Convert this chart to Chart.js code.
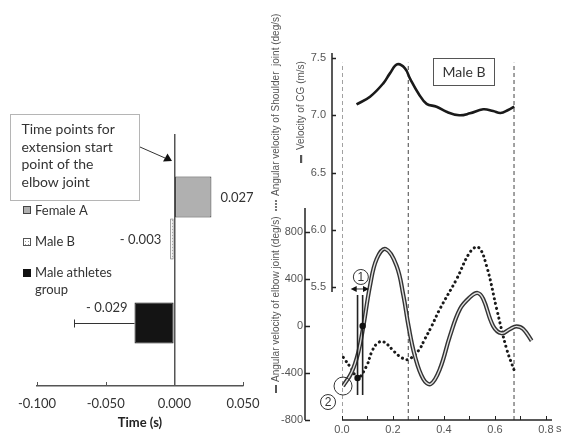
<!DOCTYPE html>
<html>
<head>
<meta charset="utf-8">
<script src="https://cdn.jsdelivr.net/npm/chart.js@4.4.0/dist/chart.umd.min.js"></script>
<style>
html, body { margin: 0; padding: 0; background: #fff; }
#wrap { position: relative; width: 564px; height: 434px; overflow: hidden; }
#izq { position: absolute; left: 0; top: 0; }
#der { position: absolute; left: 262px; top: 0; }
</style>
</head>
<body>
<div id="wrap">
  <canvas id="izq" width="262" height="434"></canvas>
  <canvas id="der" width="302" height="434"></canvas>
</div>
<script>
// ---- left panel: time of elbow extension start ----
var grupos = ['', 'Female A', 'Male B', '', 'Male athletes group', ''];
var tiempos = [null, 0.027, -0.003, null, -0.029, null];
var errores = [null, null, null, null, 0.044, null];
var ticksTiempo = [-0.1, -0.05, 0, 0.05];

// ---- right panel: Male B curves ----
var tiempoCodo = [0.004, 0.038, 0.064, 0.084, 0.110, 0.136, 0.171, 0.214, 0.241, 0.261, 0.286, 0.319, 0.348, 0.384, 0.424, 0.463, 0.502, 0.532, 0.554, 0.593, 0.626, 0.659, 0.685, 0.711, 0.744];
var velCodo = [-511, -394, -224, 0, 343, 570, 655, 513, 258, 0, -255, -451, -494, -366, -82, 145, 244, 281, 230, 0, -62, -26, -3, -26, -125];
var tiempoHombro = [0.005, 0.038, 0.062, 0.097, 0.116, 0.136, 0.162, 0.208, 0.234, 0.260, 0.300, 0.325, 0.352, 0.384, 0.450, 0.502, 0.535, 0.567, 0.607, 0.646, 0.676];
var velHombro = [-267, -366, -443, -338, -224, -153, -133, -224, -270, -285, -210, -111, 0, 145, 400, 627, 670, 513, 145, -196, -380];
var tiempoCG = [0.057, 0.110, 0.162, 0.188, 0.217, 0.247, 0.267, 0.300, 0.332, 0.371, 0.410, 0.460, 0.502, 0.554, 0.593, 0.622, 0.652, 0.676];
var velCG = [7.095, 7.162, 7.279, 7.366, 7.445, 7.41, 7.32, 7.19, 7.10, 7.075, 7.03, 7.0, 7.017, 7.052, 7.037, 7.02, 7.046, 7.075];
var lineasFase = [0, 0.26, 0.675];
var inicioExtension = [0.061, 0.081];
var marcaT = [0.061, 0.081];
var marcaV = [-443, 0];
var ticksCodo = [-800, -400, 0, 400, 800];
var ticksCG = [5.5, 6.0, 6.5, 7.0, 7.5];
var ticksT = [0, 0.1, 0.2, 0.3, 0.4, 0.5, 0.6, 0.7, 0.8];

var fuente = 'Lato, "Open Sans", sans-serif';
var fuenteEje = '"Liberation Sans", Arial, sans-serif';

function pares(xs, ys) {
    var r = [];
    for (let i = 0; i < xs.length; i++) r.push({ x: xs[i], y: ys[i] });
    return r;
}

// keep the layout from adding room for label overhang
function sinRelleno(s) {
    s.paddingLeft = 0; s.paddingRight = 0; s.paddingTop = 0; s.paddingBottom = 0;
}

function patronPuntos(ctx) {
    var c = document.createElement('canvas');
    c.width = 3; c.height = 3;
    var g = c.getContext('2d');
    g.fillStyle = '#fff'; g.fillRect(0, 0, 3, 3);
    g.fillStyle = '#9a9a9a'; g.fillRect(1, 1, 1, 1);
    return ctx.createPattern(c, 'repeat');
}

var ctxIzq = document.getElementById('izq').getContext('2d');
var puntos = patronPuntos(ctxIzq);

var extrasIzq = {
    id: 'extrasIzq',
    afterDraw: function (chart) {
        var ctx = chart.ctx;
        var xs = chart.scales.x;
        var meta = chart.getDatasetMeta(0);
        ctx.save();
        // ticks pointing up from the axis
        ctx.strokeStyle = '#555'; ctx.lineWidth = 1;
        ticksTiempo.forEach(function (v) {
            var px = Math.round(xs.getPixelForValue(v)) + 0.5;
            ctx.beginPath(); ctx.moveTo(px, xs.top); ctx.lineTo(px, xs.top - 4); ctx.stroke();
        });
        // error bar
        for (let i = 0; i < errores.length; i++) {
            if (errores[i] == null) continue;
            var bar = meta.data[i];
            var xe = xs.getPixelForValue(tiempos[i] - errores[i]);
            var yb = Math.round(bar.y) + 0.5;
            ctx.strokeStyle = '#333';
            ctx.beginPath(); ctx.moveTo(bar.x, yb); ctx.lineTo(xe, yb); ctx.stroke();
            ctx.beginPath(); ctx.moveTo(Math.round(xe) + 0.5, yb - 4); ctx.lineTo(Math.round(xe) + 0.5, yb + 4); ctx.stroke();
        }
        // value labels
        ctx.fillStyle = '#333';
        ctx.font = '13px ' + fuente;
        ctx.textBaseline = 'middle';
        var b1 = meta.data[1], b2 = meta.data[2], b4 = meta.data[4];
        ctx.textAlign = 'left';
        ctx.fillText('0.027', b1.x + 9, b1.y + 1);
        ctx.textAlign = 'right';
        ctx.fillText('- 0.003', b2.x - 9, b2.y + 1);
        ctx.fillText('- 0.029', b4.x - 7, b4.y - 15);

        // note box
        ctx.strokeStyle = '#b5b5b5';
        ctx.strokeRect(10.5, 114.5, 129, 86);
        ctx.fillStyle = '#333';
        ctx.font = '14px ' + fuente;
        ctx.textAlign = 'left';
        ['Time points for', 'extension start', 'point of the', 'elbow joint'].forEach(function (t, k) {
            ctx.fillText(t, 21.5, 129.5 + k * 17.7);
        });
        // arrow
        ctx.strokeStyle = '#333'; ctx.lineWidth = 1;
        ctx.beginPath(); ctx.moveTo(140, 147); ctx.lineTo(165, 158); ctx.stroke();
        ctx.fillStyle = '#111';
        ctx.beginPath(); ctx.moveTo(172, 161); ctx.lineTo(163, 161.5); ctx.lineTo(167.5, 153.5); ctx.closePath(); ctx.fill();

        // legend items
        ctx.font = '13px ' + fuente;
        ctx.lineWidth = 1;
        ctx.fillStyle = '#b0b0b0'; ctx.fillRect(23.5, 206.5, 7, 7);
        ctx.strokeStyle = '#444'; ctx.strokeRect(23.5, 206.5, 7, 7);
        ctx.fillStyle = puntos; ctx.fillRect(23.5, 238.5, 7, 7);
        ctx.strokeStyle = '#555'; ctx.strokeRect(23.5, 238.5, 7, 7);
        ctx.fillStyle = '#111'; ctx.fillRect(23, 269, 8, 8);
        ctx.fillStyle = '#333';
        ctx.fillText('Female A', 35, 210.5);
        ctx.fillText('Male B', 35, 242);
        ctx.fillText('Male athletes', 35, 272.5);
        ctx.fillText('group', 35, 289.5);
        ctx.restore();
    }
};

new Chart(ctxIzq, {
    type: 'bar',
    data: {
        labels: grupos,
        datasets: [{
            data: tiempos,
            backgroundColor: ['#fff', '#b0b0b0', puntos, '#fff', '#141414', '#fff'],
            borderColor: ['#fff', '#333', '#666', '#fff', '#141414', '#fff'],
            borderWidth: 1,
            borderSkipped: false,
            barPercentage: 0.98,
            categoryPercentage: 1
        }]
    },
    options: {
        indexAxis: 'y',
        responsive: false,
        animation: false,
        layout: { padding: { left: 37, right: 19, top: 134, bottom: 0 } },
        plugins: { legend: { display: false }, tooltip: { enabled: false } },
        scales: {
            x: {
                min: -0.1,
                max: 0.05,
                afterBuildTicks: function (s) { s.ticks = ticksTiempo.map(function (v) { return { value: v }; }); },
                ticks: {
                    callback: function (v) { return Number(v).toFixed(3); },
                    color: '#333',
                    font: { family: fuente, size: 13 },
                    padding: 10,
                    maxRotation: 0,
                    autoSkip: false
                },
                grid: {
                    drawTicks: false,
                    lineWidth: 1.5,
                    color: function (c) { return c.tick && c.tick.value === 0 ? '#555' : 'rgba(0,0,0,0)'; }
                },
                border: { color: '#555', width: 1.5 },
                title: {
                    display: true,
                    text: 'Time (s)',
                    color: '#222',
                    font: { family: fuente, size: 13, weight: 'bold' },
                    padding: { top: 2, bottom: 3 }
                },
                afterFit: function (s) { s.height = 48; sinRelleno(s); }
            },
            y: { display: false }
        }
    },
    plugins: [extrasIzq]
});

// ---- right chart ----
var ctxDer = document.getElementById('der').getContext('2d');

var extrasDer = {
    id: 'extrasDer',
    afterDraw: function (chart) {
        var ctx = chart.ctx;
        var xs = chart.scales.x, ye = chart.scales.yE, yc = chart.scales.yC;
        var area = chart.chartArea;
        ctx.save();
        ctx.strokeStyle = '#222';
        ctx.lineWidth = 1.5;
        // elbow axis
        var xe = ye.right - 1;
        ctx.beginPath(); ctx.moveTo(xe, ye.getPixelForValue(-800)); ctx.lineTo(xe, ye.getPixelForValue(1004)); ctx.stroke();
        ticksCodo.forEach(function (v) {
            var py = Math.round(ye.getPixelForValue(v)) + 0.5;
            ctx.beginPath(); ctx.moveTo(xe, py); ctx.lineTo(xe + 5, py); ctx.stroke();
        });
        // CG axis
        var xc = area.left - 10;
        ctx.beginPath(); ctx.moveTo(xc, yc.getPixelForValue(7.544)); ctx.lineTo(xc, yc.getPixelForValue(5.456)); ctx.stroke();
        ticksCG.forEach(function (v) {
            var py = Math.round(yc.getPixelForValue(v)) + 0.5;
            ctx.beginPath(); ctx.moveTo(xc, py); ctx.lineTo(xc + 4, py); ctx.stroke();
        });
        // time axis
        var yb = area.bottom;
        ctx.beginPath(); ctx.moveTo(area.left, yb); ctx.lineTo(area.right, yb); ctx.stroke();
        ctx.lineWidth = 1;
        ticksT.forEach(function (v) {
            var px = Math.round(xs.getPixelForValue(v)) + 0.5;
            ctx.beginPath(); ctx.moveTo(px, yb); ctx.lineTo(px, yb - 4); ctx.stroke();
        });
        ctx.fillStyle = '#555';
        ctx.font = '11px ' + fuenteEje;
        ctx.textAlign = 'left'; ctx.textBaseline = 'middle';
        ctx.fillText('s', xs.getPixelForValue(0.8) + 10, yb + 9);

        // axis titles (rotated)
        ctx.fillStyle = '#555';
        ctx.font = '10px ' + fuenteEje;
        function vertical(texto, x, y) {
            ctx.save(); ctx.translate(x, y); ctx.rotate(-Math.PI / 2);
            ctx.textAlign = 'left'; ctx.textBaseline = 'middle';
            ctx.fillText(texto, 0, 0);
            ctx.restore();
        }
        vertical('Angular velocity of Shoulder  joint (deg/s)', 14, 196);
        for (let k = 0; k < 4; k++) {
            ctx.beginPath(); ctx.arc(14, 201 + k * 3, 1.1, 0, Math.PI * 2); ctx.fill();
        }
        vertical('Angular velocity of elbow joint (deg/s)', 14, 382);
        ctx.fillRect(13, 385, 2, 8);
        vertical('Velocity of CG (m/s)', 39, 150);
        ctx.fillRect(38, 155, 2.2, 8);

        // "Male B" box
        ctx.strokeStyle = '#555'; ctx.lineWidth = 1;
        ctx.strokeRect(433.5 - 262, 58.5, 61, 27);
        ctx.fillStyle = '#333';
        ctx.font = '14px ' + fuente;
        ctx.textAlign = 'center';
        ctx.fillText('Male B', 464 - 262, 72.5);

        // annotations
        ctx.strokeStyle = '#333'; ctx.lineWidth = 1;
        var cx = xs.getPixelForValue(tiempoCodo[0]), cy = ye.getPixelForValue(velCodo[0]);
        ctx.beginPath(); ctx.arc(cx, cy, 9, 0, Math.PI * 2); ctx.stroke();
        ctx.beginPath(); ctx.arc(cx - 15, cy + 16, 7.5, 0, Math.PI * 2); ctx.stroke();
        ctx.font = '12px ' + fuenteEje; ctx.fillStyle = '#333';
        ctx.fillText('2', cx - 15, cy + 16.5);
        var ax = xs.getPixelForValue(0.074), ay = ye.getPixelForValue(417);
        ctx.beginPath(); ctx.arc(ax, ay, 7.5, 0, Math.PI * 2); ctx.stroke();
        ctx.fillText('1', ax, ay + 0.5);
        var a1 = xs.getPixelForValue(0.034), a2 = xs.getPixelForValue(0.106), yy = ye.getPixelForValue(315);
        ctx.beginPath(); ctx.moveTo(a1 + 3, yy); ctx.lineTo(a2 - 3, yy); ctx.stroke();
        ctx.fillStyle = '#111';
        ctx.beginPath(); ctx.moveTo(a1, yy); ctx.lineTo(a1 + 6, yy - 3); ctx.lineTo(a1 + 6, yy + 3); ctx.closePath(); ctx.fill();
        ctx.beginPath(); ctx.moveTo(a2, yy); ctx.lineTo(a2 - 6, yy - 3); ctx.lineTo(a2 - 6, yy + 3); ctx.closePath(); ctx.fill();
        ctx.restore();
    }
};

var datasetsDer = [];
datasetsDer.push({
    label: 'marks', type: 'scatter', yAxisID: 'yE', order: 0,
    data: pares(marcaT, marcaV),
    pointRadius: 3.2, pointBackgroundColor: '#111', pointBorderWidth: 0
});
inicioExtension.forEach(function (t) {
    datasetsDer.push({
        label: 'start', yAxisID: 'yE', order: 1,
        data: [{ x: t, y: 264 }, { x: t, y: -587 }],
        borderColor: '#222', borderWidth: 1.6, pointRadius: 0
    });
});
datasetsDer.push({
    label: 'elbow inner', yAxisID: 'yE', order: 2,
    data: pares(tiempoCodo, velCodo),
    borderColor: '#e0e0e0', borderWidth: 1.4, pointRadius: 0, tension: 0.4
});
datasetsDer.push({
    label: 'elbow', yAxisID: 'yE', order: 3,
    data: pares(tiempoCodo, velCodo),
    borderColor: '#333', borderWidth: 4.2, pointRadius: 0, tension: 0.4
});
datasetsDer.push({
    label: 'shoulder', yAxisID: 'yE', order: 4,
    data: pares(tiempoHombro, velHombro),
    borderColor: '#1a1a1a', borderWidth: 3, borderDash: [0.1, 4.8], borderCapStyle: 'round',
    pointRadius: 0, tension: 0.4
});
datasetsDer.push({
    label: 'CG', yAxisID: 'yC', order: 5,
    data: pares(tiempoCG, velCG),
    borderColor: '#1a1a1a', borderWidth: 2.6, pointRadius: 0, tension: 0.4
});
lineasFase.forEach(function (t) {
    datasetsDer.push({
        label: 'phase', yAxisID: 'yE', order: 6,
        data: [{ x: t, y: -800 }, { x: t, y: 2240 }],
        borderColor: '#444', borderWidth: 1, borderDash: [4, 3], pointRadius: 0
    });
});

new Chart(ctxDer, {
    type: 'line',
    data: { datasets: datasetsDer },
    options: {
        responsive: false,
        animation: false,
        layout: { padding: { left: 0, right: 12, top: 53, bottom: 0 } },
        plugins: { legend: { display: false }, tooltip: { enabled: false } },
        scales: {
            x: {
                type: 'linear', min: 0, max: 0.824,
                afterBuildTicks: function (s) { s.ticks = ticksT.map(function (v) { return { value: v }; }); },
                ticks: {
                    callback: function (v) { return Math.round(v * 10) % 2 === 0 ? Number(v).toFixed(1) : ''; },
                    color: '#555', font: { family: fuenteEje, size: 11 }, padding: 3,
                    maxRotation: 0, autoSkip: false
                },
                grid: { display: false, drawTicks: false },
                border: { display: false },
                afterFit: function (s) { s.height = 14; sinRelleno(s); }
            },
            yE: {
                position: 'left', weight: 1, min: -800, max: 2323,
                afterBuildTicks: function (s) { s.ticks = ticksCodo.map(function (v) { return { value: v }; }); },
                ticks: { callback: function (v) { return String(v); }, color: '#555', font: { family: fuenteEje, size: 11 }, padding: 3, autoSkip: false },
                grid: { display: false, drawTicks: false },
                border: { display: false },
                afterFit: function (s) { s.width = 44; sinRelleno(s); }
            },
            yC: {
                position: 'left', weight: 0, min: 4.338, max: 7.544,
                afterBuildTicks: function (s) { s.ticks = ticksCG.map(function (v) { return { value: v }; }); },
                ticks: { callback: function (v) { return Number(v).toFixed(1); }, color: '#555', font: { family: fuenteEje, size: 11 }, padding: 16, autoSkip: false },
                grid: { display: false, drawTicks: false },
                border: { display: false },
                afterFit: function (s) { s.width = 36; sinRelleno(s); }
            }
        }
    },
    plugins: [extrasDer]
});
</script>
</body>
</html>
